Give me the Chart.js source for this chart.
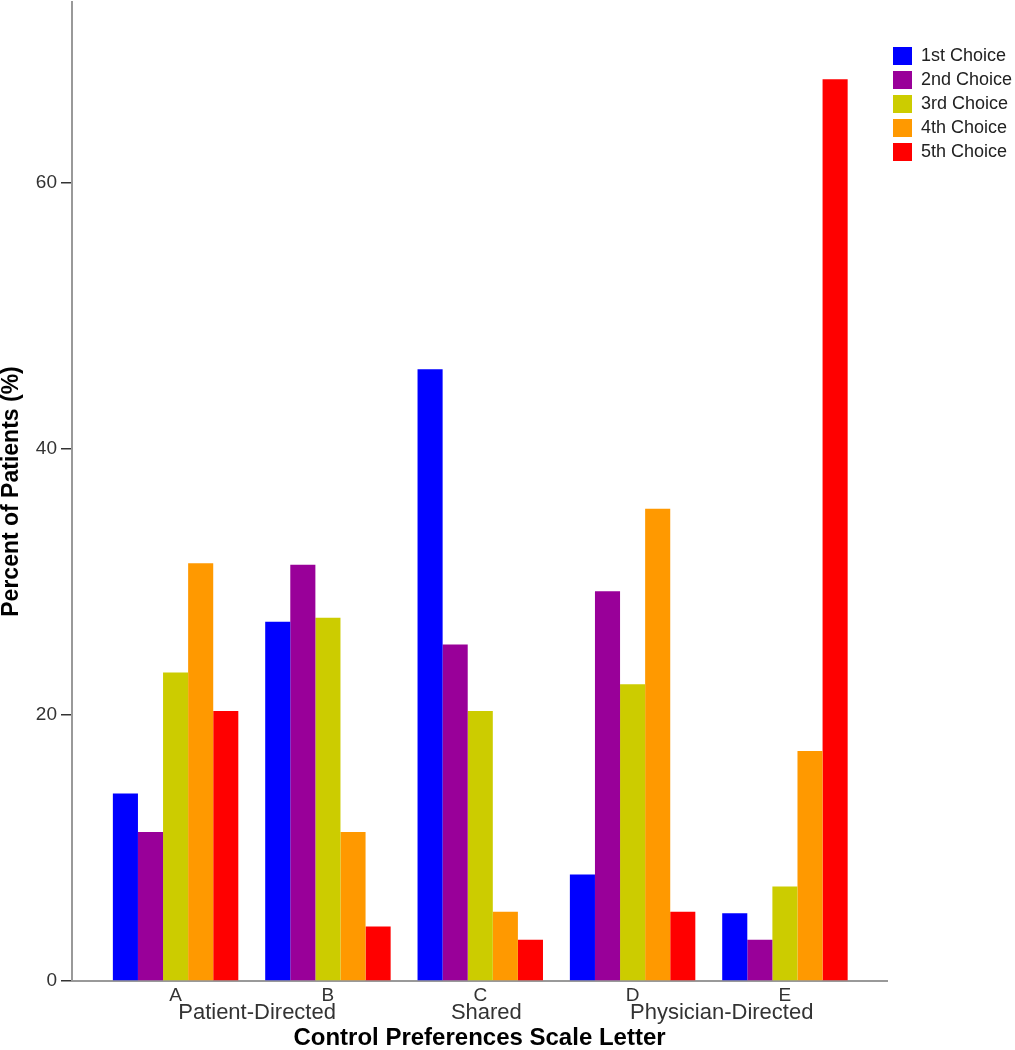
<!DOCTYPE html>
<html>
<head>
<meta charset="utf-8">
<script src="https://cdn.jsdelivr.net/npm/chart.js@4.4.1/dist/chart.umd.min.js"></script>
<style>
  body { margin: 0; background: #fff; }
  #wrap { width: 1015px; height: 1050px; }
</style>
</head>
<body>
<div id="wrap"><canvas id="chart"></canvas></div>
<script>
// Categories on the Control Preferences Scale
const letters = ['A', 'B', 'C', 'D', 'E'];
const subLabels = ['Patient-Directed', 'Shared', 'Physician-Directed'];
const subLabelAt = [0.535, 2.04, 3.585]; // where each group name sits on the x scale

// Percent of patients for each choice rank, per letter A..E
const choiceNames = ['1st Choice', '2nd Choice', '3rd Choice', '4th Choice', '5th Choice'];
const first  = [14.1, 27.0, 46.0, 8.0, 5.1];
const second = [11.2, 31.3, 25.3, 29.3, 3.1];
const third  = [23.2, 27.3, 20.3, 22.3, 7.1];
const fourth = [31.4, 11.2, 5.2, 35.5, 17.3];
const fifth  = [20.3, 4.1, 3.1, 5.2, 67.8];
const yTicks = [0, 20, 40, 60];

const colors = ['#0000ff', '#990099', '#cccc00', '#ff9900', '#ff0000'];
const series = [first, second, third, fourth, fifth];

Chart.defaults.font.family = '"Liberation Sans", Arial, sans-serif';

// Draw the second line of the x labels (group names)
const groupNames = {
    id: 'groupNames',
    afterDraw(chart) {
        const ctx = chart.ctx;
        const x = chart.scales.x;
        ctx.save();
        ctx.font = '22px "Liberation Sans", Arial, sans-serif';
        ctx.fillStyle = '#333';
        ctx.textAlign = 'center';
        ctx.textBaseline = 'middle';
        subLabels.forEach((txt, i) => {
            ctx.fillText(txt, x.getPixelForValue(subLabelAt[i]), x.top + 32);
        });
        ctx.restore();
    }
};

new Chart(document.getElementById('chart'), {
    type: 'bar',
    data: {
        datasets: series.map((vals, i) => ({
            label: choiceNames[i],
            data: vals.map((v, j) => ({ x: j, y: v })),
            backgroundColor: colors[i],
            borderWidth: 0,
            categoryPercentage: 0.8235,
            barPercentage: 1.0
        }))
    },
    options: {
        responsive: true,
        maintainAspectRatio: false,
        animation: false,
        layout: { padding: { top: 2, left: 0, right: 0, bottom: 0 } },
        plugins: {
            tooltip: { enabled: false },
            legend: {
                position: 'right',
                align: 'start',
                maxWidth: 128,
                title: { display: true, text: '', font: { size: 10 }, padding: { top: 0, bottom: 27 } },
                labels: {
                    boxWidth: 19,
                    boxHeight: 18,
                    padding: 6,
                    color: '#222',
                    font: { size: 18 }
                }
            }
        },
        scales: {
            x: {
                type: 'linear',
                offset: false,
                min: -0.68,
                max: 4.67,
                afterFit(scale) {
                    scale.height = 69;
                    scale.paddingLeft = 0;
                    scale.paddingRight = 0;
                },
                grid: { display: false, drawTicks: false, offset: false },
                border: { display: true, color: '#999', width: 2 },
                ticks: {
                    stepSize: 1,
                    includeBounds: false,
                    padding: 3,
                    color: '#333',
                    font: { size: 19 },
                    maxRotation: 0,
                    callback: (v) => letters[v] !== undefined ? letters[v] : ''
                },
                title: {
                    display: true,
                    text: 'Control Preferences Scale Letter',
                    color: '#000',
                    font: { size: 24, weight: 'bold', lineHeight: 1 },
                    padding: { top: 0, bottom: 0 }
                }
            },
            y: {
                min: 0,
                max: 73.6,
                afterFit(scale) {
                    scale.width = 72;
                    scale.paddingTop = 0;
                    scale.paddingBottom = 0;
                },
                afterBuildTicks(scale) { scale.ticks = yTicks.map(v => ({ value: v })); },
                grid: { drawOnChartArea: false, drawTicks: true, tickLength: 11, color: '#333', lineWidth: 1.5 },
                border: { display: true, color: '#999', width: 2 },
                ticks: {
                    padding: 4,
                    color: '#333',
                    font: { size: 19 }
                },
                title: {
                    display: true,
                    text: 'Percent of Patients (%)',
                    color: '#000',
                    font: { size: 23, weight: 'bold', lineHeight: 1 },
                    padding: { top: 0, bottom: 0 }
                }
            }
        }
    },
    plugins: [groupNames]
});
</script>
</body>
</html>
